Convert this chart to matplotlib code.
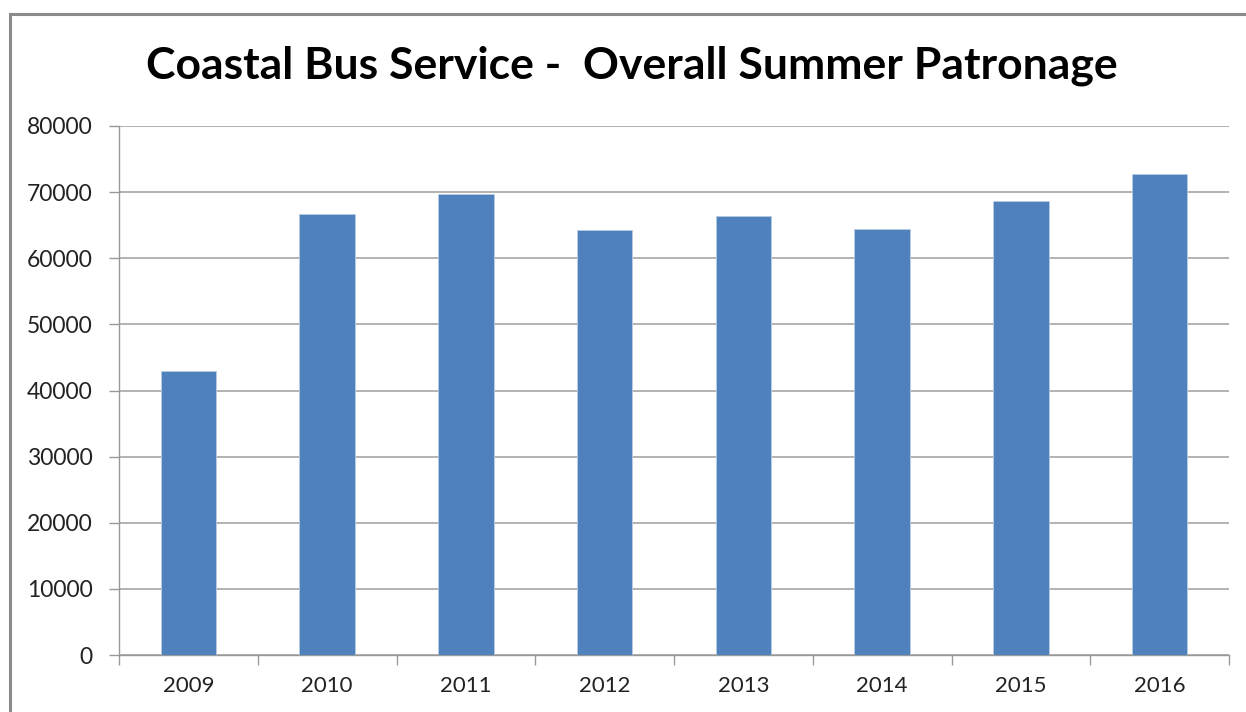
import matplotlib.pyplot as plt
from matplotlib.patches import Rectangle
import numpy as np

# 연도별 데이터
years = ['2009', '2010', '2011', '2012', '2013', '2014', '2015', '2016']
patronage = [42900, 66700, 69700, 64300, 66400, 64400, 68700, 72800]
yticks = [0, 10000, 20000, 30000, 40000, 50000, 60000, 70000, 80000]

plt.rcParams['font.family'] = ['Lato', 'DejaVu Sans']

fig = plt.figure(figsize=(12.46, 7.12), dpi=100)
ax = fig.add_axes([119/1246, 57/712, 1110/1246, 529/712])

# 바깥 테두리 (오른쪽, 아래는 잘려 있음)
fig.patches.append(Rectangle((9.5/1246, -0.1), 1.2, (712 - 13.5)/712 + 0.1,
                             transform=fig.transFigure, fill=False,
                             edgecolor='#8a8a8a', linewidth=2.2))

x = np.arange(len(years))
ax.bar(x, patronage, width=0.4, color='#4F81BD', edgecolor='#b8cce4',
       linewidth=0.6, zorder=3)

ax.set_xlim(-0.5, len(years) - 0.5)
ax.set_ylim(0, 80000)
ax.set_yticks(yticks)
ax.set_yticklabels([str(v) for v in yticks], fontsize=16.5, color='#222222')
ax.set_xticks(x)
ax.set_xticklabels(years, fontsize=16, color='#222222')
ax.set_xticks(np.arange(-0.5, len(years)), minor=True)
ax.tick_params(axis='x', which='major', length=0, pad=15)
ax.tick_params(axis='x', which='minor', length=7, width=1, color='#999999', direction='out')
ax.tick_params(axis='y', length=7, width=1, color='#999999', direction='out', pad=12)

ax.yaxis.grid(True, color='#a6a6a6', linewidth=1.2, zorder=0)
for s in ['top', 'right']:
    ax.spines[s].set_visible(False)
for s in ['left', 'bottom']:
    ax.spines[s].set_color('#999999')
    ax.spines[s].set_linewidth(1)

fig.text(632/1246, 1 - 66/712, 'Coastal Bus Service -  Overall Summer Patronage',
         ha='center', va='center', fontsize=32, fontweight='bold', color='black')

fig.savefig('out.png', dpi=100)
